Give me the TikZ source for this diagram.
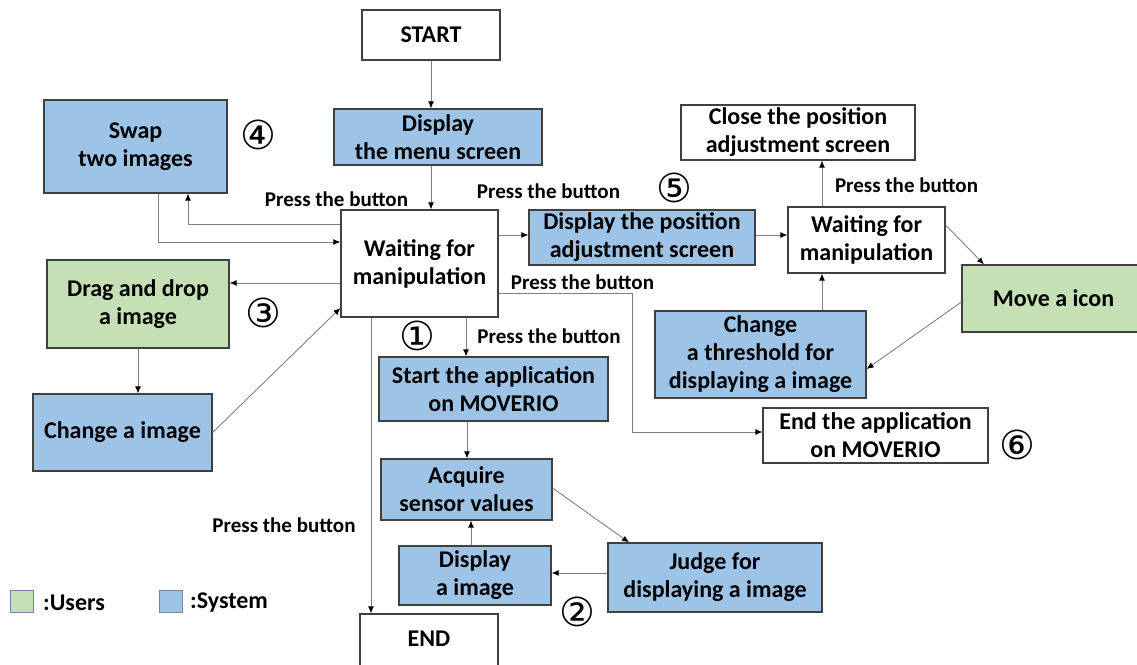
\documentclass[tikz,border=0pt]{standalone}
\usepackage{fontspec}
\setmainfont{Carlito}
\newfontfamily\symfont{DejaVu Sans}
\usetikzlibrary{arrows.meta}
\definecolor{sysblue}{HTML}{9DC3E6}
\definecolor{usergreen}{HTML}{C5E0B4}
\definecolor{edgegray}{HTML}{404040}
\definecolor{linegray}{HTML}{808080}
\tikzset{
  box/.style={draw=edgegray, line width=1.2pt, inner sep=0pt, align=center,
    font=\fontsize{24}{28}\selectfont\bfseries},
  sysbox/.style={box, fill=sysblue},
  userbox/.style={box, fill=usergreen},
  plainbox/.style={box, fill=white},
  conn/.style={draw=linegray, line width=0.9pt,
    -{Latex[length=7pt,width=6pt,color=black]}},
  lbl/.style={font=\fontsize{21}{24}\selectfont\bfseries, inner sep=0pt},
  circnum/.style={font=\symfont\fontsize{40}{40}\selectfont, inner sep=0pt},
}
\begin{document}
\begin{tikzpicture}[x=1pt,y=-1pt]
\useasboundingbox (0,0) rectangle (1137,664);
% boxes
\node[plainbox, minimum width=138pt, minimum height=50pt] (start) at (431,35) {START};
\node[sysbox, minimum width=208pt, minimum height=56pt] (menu) at (438,137) {Display\\the menu screen};
\node[plainbox, minimum width=157pt, minimum height=107pt] (wait) at (419.5,263.5) {Waiting for\\manipulation};
\node[sysbox, minimum width=183pt, minimum height=93pt] (swap) at (135.5,146.5) {Swap\\two images};
\node[userbox, minimum width=182pt, minimum height=88pt] (drag) at (138,304) {Drag and drop\\a image};
\node[sysbox, minimum width=179pt, minimum height=77pt] (chg) at (122.5,432.5) {Change a image};
\node[sysbox, minimum width=229pt, minimum height=64pt] (startapp) at (493.5,389) {Start the application\\on MOVERIO};
\node[sysbox, minimum width=171pt, minimum height=61pt] (acq) at (466.5,489.5) {Acquire\\sensor values};
\node[sysbox, minimum width=152pt, minimum height=59pt] (disp) at (475,575.5) {Display\\a image};
\node[sysbox, minimum width=214pt, minimum height=69pt] (judge) at (715,577.5) {Judge for\\displaying a image};
\node[plainbox, minimum width=138pt, minimum height=60pt] (end) at (429,644) {};
\node[font=\fontsize{24}{28}\selectfont\bfseries, inner sep=0pt] (endtxt) at (429,639) {END};
\node[sysbox, minimum width=226pt, minimum height=55pt] (dpos) at (642,237.5) {Display the position\\adjustment screen};
\node[plainbox, minimum width=157pt, minimum height=66pt] (wait2) at (866.5,240) {Waiting for\\manipulation};
\node[plainbox, minimum width=234pt, minimum height=55pt] (close) at (798,132.5) {Close the position\\adjustment screen};
\node[userbox, minimum width=183pt, minimum height=67pt] (move) at (1053.5,298.5) {Move a icon};
\node[sysbox, minimum width=211pt, minimum height=87pt] (thr) at (760.5,354.5) {Change\\a threshold for\\displaying a image};
\node[plainbox, minimum width=225pt, minimum height=55pt] (endapp) at (875.5,435.5) {End the application\\on MOVERIO};
% connectors
\draw[conn] (431,0 |- start.south) -- (431,0 |- menu.north);
\draw[conn] (431,0 |- menu.south) -- (431,0 |- wait.north);
\draw[conn] (wait.west |- 0,224) -| (188,0 |- swap.south);
\draw[conn] (158,0 |- swap.south) |- (wait.west |- 0,242);
\draw[conn] (wait.west |- 0,283) -- (drag.east |- 0,283);
\draw[conn] (138,0 |- drag.south) -- (138,0 |- chg.north);
\draw[conn] (chg.east) -- (wait.west |- 0,308);
\draw[conn] (466,0 |- wait.south) -- (466,0 |- startapp.north);
\draw[conn] (371,0 |- wait.south) -- (371,0 |- end.north);
\draw[conn] (wait.east |- 0,293) -| (632,432) -- (endapp.west |- 0,432);
\draw[conn] (wait.east |- 0,235) -- (dpos.west |- 0,235);
\draw[conn] (dpos.east |- 0,235) -- (wait2.west |- 0,235);
\draw[conn] (822,0 |- wait2.north) -- (822,0 |- close.south);
\draw[conn] (wait2.east |- 0,225) -- (984,0 |- move.north);
\draw[conn] (move.west |- 0,302) -- (thr.east |- 0,369);
\draw[conn] (822,0 |- thr.north) -- (822,0 |- wait2.south);
\draw[conn] (467,0 |- startapp.south) -- (467,0 |- acq.north);
\draw[conn] (acq.east |- 0,488) -- (629,0 |- judge.north);
\draw[conn] (judge.west |- 0,573) -- (disp.east |- 0,573);
\draw[conn] (471,0 |- disp.north) -- (471,0 |- acq.south);
% labels
\node[lbl] (l1) at (336.5,199) {Press the button};
\node[lbl] (l2) at (548.5,191) {Press the button};
\node[lbl] (l3) at (906.5,185) {Press the button};
\node[lbl] (l4) at (582.5,282) {Press the button};
\node[lbl] (l5) at (549,336) {Press the button};
\node[lbl] (l6) at (284,525) {Press the button};
% circled numbers
\node[circnum] (c4) at (258,135) {④};
\node[circnum] (c5) at (674,188) {⑤};
\node[circnum] (c3) at (263,313) {③};
\node[circnum] (c1) at (417,336) {①};
\node[circnum] (c2) at (577,612) {②};
\node[circnum] (c6) at (1017,445) {⑥};
% legend
\node[draw=sysblue!70!black, line width=0.6pt, fill=usergreen, minimum width=23pt, minimum height=22pt, inner sep=0pt] (lgu) at (21.5,601) {};
\node[font=\fontsize{24}{28}\selectfont\bfseries, anchor=west, inner sep=0pt] (lgut) at (43,603) {:Users};
\node[draw=sysblue!70!black, line width=0.6pt, fill=sysblue, minimum width=23pt, minimum height=22pt, inner sep=0pt] (lgs) at (170.5,601) {};
\node[font=\fontsize{24}{28}\selectfont\bfseries, anchor=west, inner sep=0pt] (lgst) at (190,603) {:System};
\end{tikzpicture}
\end{document}
